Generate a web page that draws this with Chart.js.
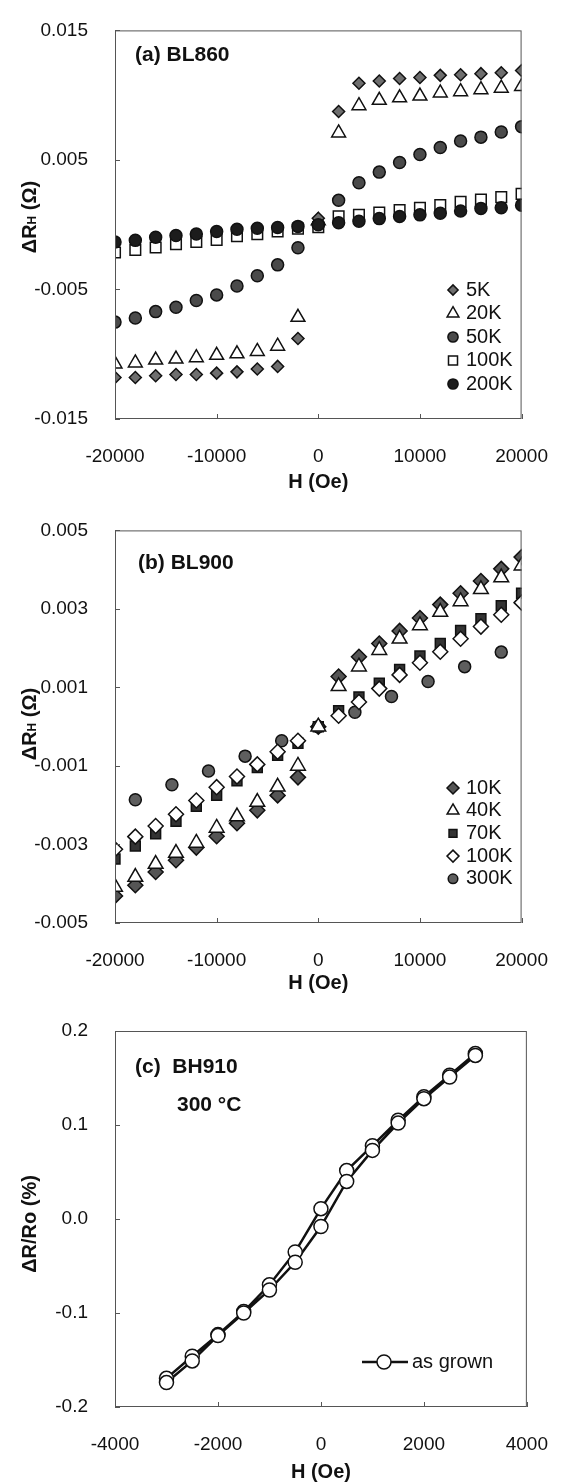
<!DOCTYPE html>
<html>
<head>
<meta charset="utf-8">
<script src="https://cdn.jsdelivr.net/npm/chart.js@4.4.1/dist/chart.umd.min.js"></script>
<style>
  html, body { margin: 0; padding: 0; background: #fff; }
  #wrap { position: relative; width: 566px; height: 1484px; }
  canvas { position: absolute; left: 0; }
</style>
</head>
<body>
<div id="wrap">
  <canvas id="chartA" width="566" height="500" style="top:0px"></canvas>
  <canvas id="chartB" width="566" height="500" style="top:500px"></canvas>
  <canvas id="chartC" width="566" height="484" style="top:1000px"></canvas>
</div>
<script>
// ---- data: (a) BL860 ----
const fieldA = [-20000, -18000, -16000, -14000, -12000, -10000, -8000, -6000, -4000, -2000, 0,
                2000, 4000, 6000, 8000, 10000, 12000, 14000, 16000, 18000, 20000];
const a5K   = [-0.0118, -0.0118, -0.01166, -0.01156, -0.01156, -0.01146, -0.01136, -0.01114, -0.01094, -0.00879, 0.0005,
               0.00874, 0.01092, 0.01109, 0.01129, 0.01136, 0.01153, 0.01158, 0.01166, 0.01173, 0.0119];
const a20K  = [-0.01075, -0.01067, -0.01045, -0.01037, -0.01027, -0.01008, -0.00997, -0.00978, -0.00938, -0.00715, 0.0003,
               0.00708, 0.00919, 0.0096, 0.0098, 0.00993, 0.01017, 0.01027, 0.01042, 0.01054, 0.01067];
const a50K  = [-0.00752, -0.0072, -0.00671, -0.00637, -0.00585, -0.00542, -0.00473, -0.00394, -0.0031, -0.00178, 0.0,
               0.00188, 0.00324, 0.00406, 0.0048, 0.00542, 0.00596, 0.00646, 0.00676, 0.00715, 0.00757];
const a100K = [-0.00215, -0.00195, -0.00176, -0.00151, -0.00134, -0.00117, -0.00089, -0.00074, -0.00052, -0.0003, -0.0002,
               0.00064, 0.00076, 0.00094, 0.00114, 0.00131, 0.00151, 0.00176, 0.00195, 0.00213, 0.00238];
const a200K = [-0.00134, -0.00121, -0.00097, -0.00084, -0.00072, -0.00052, -0.00035, -0.00028, -0.00022, -0.00013, 0.0,
               0.00015, 0.00027, 0.00047, 0.00064, 0.00076, 0.00089, 0.00106, 0.00126, 0.00131, 0.00151];

// ---- data: (b) BL900 ----
const fieldB = fieldA;
const b10K  = [-0.00431, -0.00404, -0.0037, -0.0034, -0.00308, -0.00279, -0.00246, -0.00213, -0.00175, -0.00129, 0,
               0.00128, 0.00178, 0.00212, 0.00244, 0.00277, 0.00311, 0.0034, 0.00371, 0.00402, 0.00432];
const b40K  = [-0.00408, -0.00383, -0.0035, -0.00322, -0.00296, -0.00258, -0.00229, -0.00192, -0.00153, -0.001, 0,
               0.00103, 0.00153, 0.00195, 0.00224, 0.00258, 0.00292, 0.00319, 0.0035, 0.0038, 0.0041];
const b70K  = [-0.00337, -0.00304, -0.00273, -0.00241, -0.00203, -0.00175, -0.00138, -0.00104, -0.00073, -0.00042, 0,
               0.00041, 0.00076, 0.00111, 0.00146, 0.0018, 0.00212, 0.00245, 0.00275, 0.00308, 0.0034];
const b100K = [-0.00312, -0.0028, -0.00253, -0.00223, -0.00188, -0.00154, -0.00127, -0.00096, -0.00064, -0.00036, null,
               0.00028, 0.00063, 0.00097, 0.00132, 0.00163, 0.00191, 0.00224, 0.00255, 0.00285, 0.00316];
const field300K = [-18000, -14400, -10800, -7200, -3600, 0, 3600, 7200, 10800, 14400, 18000];
const b300K = [-0.00186, -0.00148, -0.00113, -0.00075, -0.00036, 0, 0.00037, 0.00077, 0.00115, 0.00153, 0.0019];

// ---- data: (c) BH910, one loop: sweep down then sweep up ----
const fieldC = [3000, 2500, 2000, 1500, 1000, 500, 0, -500, -1000, -1500, -2000, -2500, -3000,
                -3000, -2500, -2000, -1500, -1000, -500, 0, 500, 1000, 1500, 2000, 2500, 3000];
const mrC    = [0.176, 0.153, 0.130, 0.105, 0.078, 0.0515, 0.011, -0.035, -0.070, -0.0985, -0.123, -0.146, -0.1695,
                -0.174, -0.151, -0.124, -0.100, -0.0755, -0.046, -0.008, 0.040, 0.073, 0.102, 0.128, 0.151, 0.174];

// ---- ticks ----
const xTicksAB = [-20000, -10000, 0, 10000, 20000];
const xLabelsAB = ['-20000', '-10000', '0', '10000', '20000'];
const yTicksA = [-0.015, -0.005, 0.005, 0.015];
const yLabelsA = ['-0.015', '-0.005', '0.005', '0.015'];
const yTicksB = [-0.005, -0.003, -0.001, 0.001, 0.003, 0.005];
const yLabelsB = ['-0.005', '-0.003', '-0.001', '0.001', '0.003', '0.005'];
const xTicksC = [-4000, -2000, 0, 2000, 4000];
const xLabelsC = ['-4000', '-2000', '0', '2000', '4000'];
const yTicksC = [-0.2, -0.1, 0.0, 0.1, 0.2];
const yLabelsC = ['-0.2', '-0.1', '0.0', '0.1', '0.2'];

Chart.defaults.font.family = "'Liberation Sans', Arial, sans-serif";
Chart.defaults.color = '#111';

function pts(xs, ys) {
  const out = [];
  xs.forEach((x, i) => { if (ys[i] !== null) out.push({ x: x, y: ys[i] }); });
  return out;
}

// frame, inward ticks, titles, panel text and in-plot legend
const decor = {
  id: 'decor',
  afterDraw(chart, args, o) {
    const ctx = chart.ctx, a = chart.chartArea, xs = chart.scales.x, ys = chart.scales.y;
    ctx.save();
    ctx.strokeStyle = '#555';
    ctx.lineWidth = 1;
    ctx.strokeRect(a.left + 0.5, a.top + 0.5, a.width - 1, a.height - 1);
    ctx.beginPath();
    xs.ticks.forEach(t => {
      const px = Math.round(xs.getPixelForValue(t.value)) + 0.5;
      ctx.moveTo(px, a.bottom); ctx.lineTo(px, a.bottom - 5);
    });
    ys.ticks.forEach(t => {
      const py = Math.round(ys.getPixelForValue(t.value)) + 0.5;
      ctx.moveTo(a.left, py); ctx.lineTo(a.left + 5, py);
    });
    ctx.stroke();

    ctx.fillStyle = '#111';
    ctx.textBaseline = 'middle';
    // panel labels
    ctx.font = "bold 21px 'Liberation Sans', Arial, sans-serif";
    ctx.textAlign = 'left';
    o.labels.forEach(l => ctx.fillText(l.text, l.x, l.y));

    // x title
    ctx.font = "bold 20px 'Liberation Sans', Arial, sans-serif";
    ctx.textAlign = 'center';
    ctx.fillText('H (Oe)', (a.left + a.right) / 2, o.xTitleY);

    // y title, rotated, built from parts
    ctx.save();
    ctx.translate(o.yTitleX, o.yTitleY);
    ctx.rotate(-Math.PI / 2);
    ctx.textAlign = 'left';
    let total = 0;
    o.yTitle.forEach(p => { ctx.font = 'bold ' + p.size + "px 'Liberation Sans', Arial, sans-serif"; total += ctx.measureText(p.t).width; });
    let cx = -total / 2;
    o.yTitle.forEach(p => {
      ctx.font = 'bold ' + p.size + "px 'Liberation Sans', Arial, sans-serif";
      ctx.fillText(p.t, cx, p.dy || 0);
      cx += ctx.measureText(p.t).width;
    });
    ctx.restore();

    // legend inside the plot
    const lg = o.legend;
    ctx.font = "20px 'Liberation Sans', Arial, sans-serif";
    ctx.textAlign = 'left';
    chart.data.datasets.forEach((ds, i) => {
      const y = lg.y + i * lg.dy;
      if (lg.line) {
        ctx.strokeStyle = ds.borderColor;
        ctx.lineWidth = ds.borderWidth;
        ctx.beginPath(); ctx.moveTo(lg.x - 22, y); ctx.lineTo(lg.x + 24, y); ctx.stroke();
      }
      ctx.fillStyle = ds.pointBackgroundColor;
      ctx.strokeStyle = ds.pointBorderColor;
      ctx.lineWidth = ds.pointBorderWidth;
      Chart.helpers.drawPoint(ctx, { pointStyle: ds.pointStyle, radius: ds.pointRadius * lg.scale, rotation: 0, borderWidth: ds.pointBorderWidth }, lg.x, y);
      ctx.fillStyle = '#111';
      ctx.fillText(ds.label, lg.textX, y);
    });
    ctx.restore();
  }
};

function marker(label, data, style, radius, fill, order) {
  return {
    label: label, data: data, order: order,
    pointStyle: style, pointRadius: radius,
    pointBackgroundColor: fill, pointBorderColor: '#111', pointBorderWidth: 1.5,
    showLine: false
  };
}

function opts(c) {
  return {
    responsive: false, animation: false, devicePixelRatio: 1,
    layout: { padding: { top: c.top, right: 36, left: 0, bottom: 0 } },
    plugins: { legend: { display: false }, tooltip: { enabled: false }, decor: c.decor },
    scales: {
      x: {
        type: 'linear', min: c.xTicks[0], max: c.xTicks[c.xTicks.length - 1],
        afterBuildTicks: s => { s.ticks = c.xTicks.map(v => ({ value: v })); },
        afterFit: s => { s.height = c.xAxisH; },
        grid: { display: false }, border: { display: false },
        ticks: { autoSkip: false, maxRotation: 0, padding: 18, font: { size: 19 }, color: '#111',
                 callback: (v, i) => c.xLabels[i] }
      },
      y: {
        type: 'linear', min: c.yTicks[0], max: c.yTicks[c.yTicks.length - 1],
        afterBuildTicks: s => { s.ticks = c.yTicks.map(v => ({ value: v })); },
        afterFit: s => { s.width = 115; },
        grid: { display: false }, border: { display: false },
        ticks: { autoSkip: false, padding: 19, font: { size: 19 }, color: '#111',
                 callback: (v, i) => c.yLabels[i] }
      }
    }
  };
}

const rhTitle = [{ t: '\u0394R', size: 20 }, { t: 'H', size: 12, dy: 3 }, { t: ' (\u03A9)', size: 20 }];

new Chart(document.getElementById('chartA'), {
  type: 'scatter',
  data: { datasets: [
    marker('5K', pts(fieldA, a5K), 'rectRot', 6, '#6e6e6e', 3),
    marker('20K', pts(fieldA, a20K), 'triangle', 8, '#ffffff', 3),
    marker('50K', pts(fieldA, a50K), 'circle', 6, '#4a4a4a', 3),
    marker('100K', pts(fieldA, a100K), 'rect', 7.5, '#ffffff', 2),
    marker('200K', pts(fieldA, a200K), 'circle', 6, '#1c1c1c', 1)
  ] },
  options: opts({
    top: 15, xAxisH: 81, xTicks: xTicksAB, xLabels: xLabelsAB, yTicks: yTicksA, yLabels: yLabelsA,
    decor: {
      labels: [{ text: '(a) BL860', x: 135, y: 55 }],
      xTitleY: 482, yTitleX: 30, yTitleY: 217, yTitle: rhTitle,
      legend: { x: 453, textX: 466, y: 290, dy: 23.5, scale: 0.85 }
    }
  }),
  plugins: [decor]
});

new Chart(document.getElementById('chartB'), {
  type: 'scatter',
  data: { datasets: [
    marker('10K', pts(fieldB, b10K), 'rectRot', 7.5, '#555555', 2),
    marker('40K', pts(fieldB, b40K), 'triangle', 8.5, '#ffffff', 1),
    marker('70K', pts(fieldB, b70K), 'rect', 7, '#333333', 2),
    marker('100K', pts(fieldB, b100K), 'rectRot', 7.5, '#ffffff', 1),
    marker('300K', pts(field300K, b300K), 'circle', 6, '#5e5e5e', 1)
  ] },
  options: opts({
    top: 26, xAxisH: 77, xTicks: xTicksAB, xLabels: xLabelsAB, yTicks: yTicksB, yLabels: yLabelsB,
    decor: {
      labels: [{ text: '(b) BL900', x: 138, y: 63 }],
      xTitleY: 483, yTitleX: 30, yTitleY: 224, yTitle: rhTitle,
      legend: { x: 453, textX: 466, y: 288, dy: 22.7, scale: 0.8 }
    }
  }),
  plugins: [decor]
});

new Chart(document.getElementById('chartC'), {
  type: 'scatter',
  data: { datasets: [{
    label: 'as grown', data: pts(fieldC, mrC), showLine: true,
    borderColor: '#111', borderWidth: 2.5, tension: 0,
    pointStyle: 'circle', pointRadius: 7,
    pointBackgroundColor: '#ffffff', pointBorderColor: '#111', pointBorderWidth: 1.5
  }] },
  options: opts({
    top: 31, xAxisH: 77, xTicks: xTicksC, xLabels: xLabelsC, yTicks: yTicksC, yLabels: yLabelsC,
    decor: {
      labels: [{ text: '(c)  BH910', x: 135, y: 67 }, { text: '300 \u00B0C', x: 177, y: 105 }],
      xTitleY: 472, yTitleX: 30, yTitleY: 224,
      yTitle: [{ t: '\u0394R/Ro (%)', size: 20 }],
      legend: { x: 384, textX: 412, y: 362, dy: 0, scale: 1, line: true }
    }
  }),
  plugins: [decor]
});
</script>
</body>
</html>
